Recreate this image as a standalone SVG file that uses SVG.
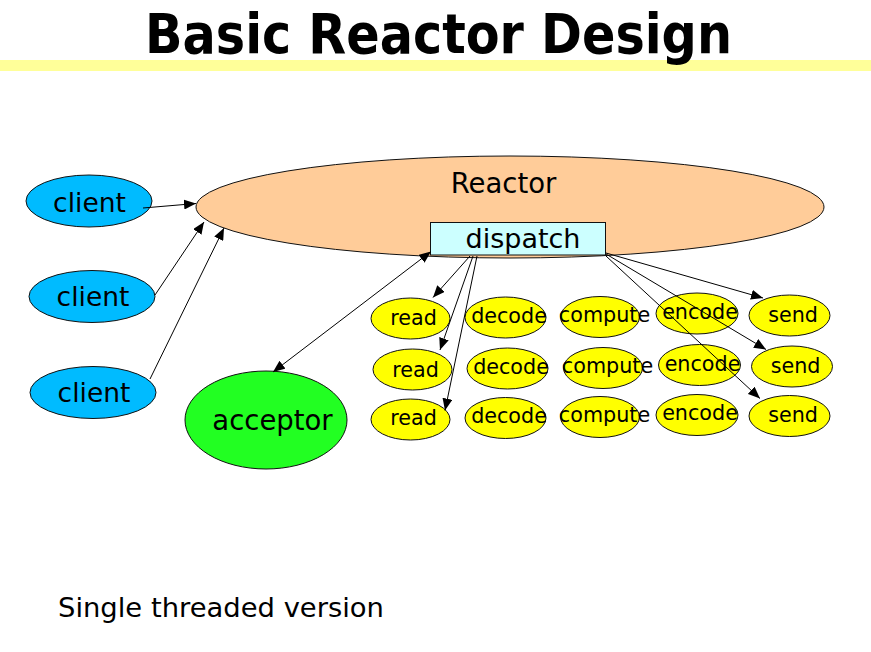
<svg xmlns="http://www.w3.org/2000/svg" width="871" height="652" viewBox="0 0 871 652">
<defs>
<marker id="ah" markerUnits="userSpaceOnUse" markerWidth="13" markerHeight="10" refX="12" refY="5" orient="auto-start-reverse" viewBox="0 0 13 10">
<path d="M0,0 L12,5 L0,10 z" fill="#000"/>
</marker>
<style>
.t{font-family:"DejaVu Sans","Verdana",sans-serif;fill:#000;text-anchor:middle}
.big{font-size:27px}
.sm{font-size:20.7px}
.ln{stroke:#000;stroke-width:1;fill:none;marker-end:url(#ah)}
.y{fill:#FFFF00;stroke:#111;stroke-width:1}
.c{fill:#00BBFF;stroke:#111;stroke-width:1}
</style>
</defs>
<rect width="871" height="652" fill="#fff"/>
<rect x="0" y="60" width="871" height="11" fill="#FFFF99"/>
<text x="438.5" y="53" font-family="DejaVu Sans Condensed, DejaVu Sans, sans-serif" font-weight="bold" font-size="55" text-anchor="middle" textLength="587" lengthAdjust="spacingAndGlyphs">Basic Reactor Design</text>

<g id="reactor">
<ellipse cx="510" cy="207" rx="314" ry="51" fill="#FFCC99" stroke="#111" stroke-width="1"/>
<text class="t" x="503.5" y="193" font-size="27.5">Reactor</text>
</g>
<g id="dispatch">
<rect x="430.5" y="222.5" width="175" height="32.5" fill="#CCFFFF" stroke="#111" stroke-width="1"/>
<text class="t big" x="523" y="247.5">dispatch</text>
</g>
<g id="client1">
<ellipse class="c" cx="89" cy="201" rx="63" ry="26"/>
<text class="t" x="89.5" y="211.5" font-size="26.5">client</text>
</g>
<g id="client2">
<ellipse class="c" cx="92" cy="296.5" rx="63" ry="26"/>
<text class="t" x="93" y="306" font-size="26.5">client</text>
</g>
<g id="client3">
<ellipse class="c" cx="93" cy="392.5" rx="63" ry="26"/>
<text class="t" x="94" y="401.5" font-size="26.5">client</text>
</g>
<g id="acceptor">
<ellipse cx="266" cy="420" rx="81" ry="49" fill="#22FF22" stroke="#111" stroke-width="1"/>
<text class="t" x="272.5" y="430" font-size="27.5">acceptor</text>
</g>

<g id="read1"><ellipse class="y" cx="410.5" cy="318.5" rx="39.5" ry="20.5"/><text class="t sm" x="413.5" y="325">read</text></g>
<g id="read2"><ellipse class="y" cx="412.5" cy="369.5" rx="39.5" ry="20.5"/><text class="t sm" x="415.5" y="376.5">read</text></g>
<g id="read3"><ellipse class="y" cx="410.5" cy="419.5" rx="39.5" ry="20.5"/><text class="t sm" x="413.5" y="425">read</text></g>

<g id="decode1"><ellipse class="y" cx="505.5" cy="317.5" rx="40.5" ry="20.5"/><text class="t sm" x="509" y="323">decode</text></g>
<g id="decode2"><ellipse class="y" cx="507.5" cy="368.5" rx="40.5" ry="20.5"/><text class="t sm" x="511" y="373.5">decode</text></g>
<g id="decode3"><ellipse class="y" cx="505.5" cy="418" rx="40.5" ry="20.5"/><text class="t sm" x="509" y="422.5">decode</text></g>

<g id="compute1"><ellipse class="y" cx="600" cy="317" rx="39.5" ry="20.5"/><text class="t sm" x="604.5" y="322">compute</text></g>
<g id="compute2"><ellipse class="y" cx="603" cy="368" rx="39.5" ry="20.5"/><text class="t sm" x="607.5" y="373">compute</text></g>
<g id="compute3"><ellipse class="y" cx="600" cy="417" rx="39.5" ry="20.5"/><text class="t sm" x="604.5" y="422">compute</text></g>

<g id="encode1"><ellipse class="y" cx="697" cy="313.5" rx="41" ry="20.5"/><text class="t sm" x="700" y="319">encode</text></g>
<g id="encode2"><ellipse class="y" cx="699.5" cy="365" rx="41" ry="20.5"/><text class="t sm" x="702.5" y="371">encode</text></g>
<g id="encode3"><ellipse class="y" cx="697" cy="415" rx="41" ry="20.5"/><text class="t sm" x="700" y="420">encode</text></g>

<g id="send1"><ellipse class="y" cx="789.5" cy="315.5" rx="40.5" ry="20.5"/><text class="t sm" x="793" y="321.5">send</text></g>
<g id="send2"><ellipse class="y" cx="792" cy="366.5" rx="40.5" ry="20.5"/><text class="t sm" x="795.5" y="372.5">send</text></g>
<g id="send3"><ellipse class="y" cx="789.5" cy="416" rx="40.5" ry="20.5"/><text class="t sm" x="793" y="421.5">send</text></g>

<g id="connectors">
<line class="ln" x1="143" y1="208" x2="196" y2="203.5"/>
<line class="ln" x1="155" y1="295" x2="204" y2="222"/>
<line class="ln" x1="150" y1="379" x2="224" y2="228"/>
<line class="ln" x1="273" y1="372" x2="431" y2="251.5" style="marker-start:url(#ah)"/>
<line class="ln" x1="470" y1="256" x2="433" y2="297.5"/>
<line class="ln" x1="473" y1="256" x2="440" y2="350"/>
<line class="ln" x1="477" y1="256" x2="445" y2="410.5"/>
<line class="ln" x1="606" y1="253" x2="763" y2="298"/>
<line class="ln" x1="606" y1="254" x2="766" y2="349.5"/>
<line class="ln" x1="606" y1="256" x2="760" y2="398.5"/>
</g>

<text x="58" y="617" font-family="DejaVu Sans, Verdana, sans-serif" font-size="27.4">Single threaded version</text>
</svg>
